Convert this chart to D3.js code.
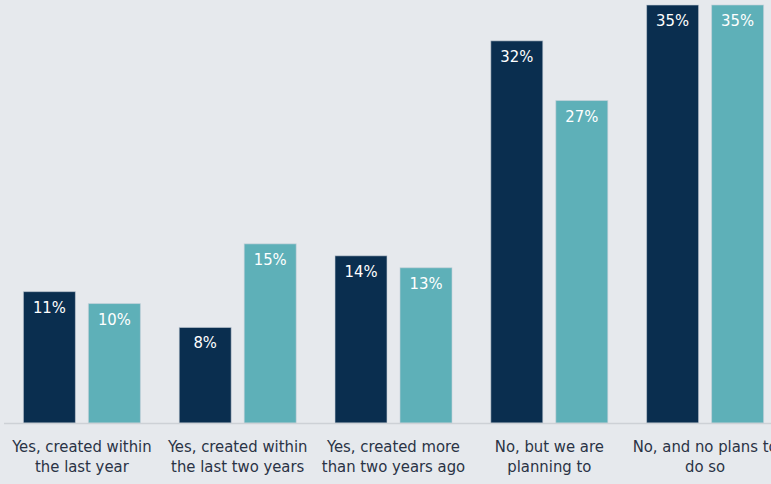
<!DOCTYPE html>
<html>
<head>
<meta charset="utf-8">
<script src="https://cdn.jsdelivr.net/npm/d3@7"></script>
<style>
  html, body { margin: 0; padding: 0; background: #e6e9ed; }
  svg { display: block; }
  text { font-family: "DejaVu Sans Condensed", "DejaVu Sans", sans-serif; }
</style>
</head>
<body>
<svg id="chart" width="771" height="484"></svg>
<script>
// Survey answers (x categories), each split over two lines
const categories = [
  ["Yes, created within", "the last year"],
  ["Yes, created within", "the last two years"],
  ["Yes, created more", "than two years ago"],
  ["No, but we are", "planning to"],
  ["No, and no plans to", "do so"]
];
// Two respondent groups, percentages
const seriesA = [11, 8, 14, 32, 35];
const seriesB = [10, 15, 13, 27, 35];
const colors = ["#0a2e4f", "#5eb0b8"];

const svg = d3.select("#chart");
const baseY = 423;
const plotTop = 5;

const x0 = d3.scaleBand()
  .domain(d3.range(categories.length))
  .range([4, 783])
  .paddingInner(0)
  .paddingOuter(0);

const x1 = d3.scaleBand()
  .domain([0, 1])
  .range([0, 117])
  .paddingInner(0.2)
  .paddingOuter(0);

const y = d3.scaleLinear().domain([0, 35]).range([baseY, plotTop]);

const rows = categories.map((c, i) => ({ i, vals: [seriesA[i], seriesB[i]] }));

const groups = svg.selectAll("g.grp")
  .data(rows)
  .join("g")
  .attr("class", "grp")
  .attr("transform", d => `translate(${x0(d.i) + (x0.bandwidth() - 117) / 2},0)`);

const bars = groups.selectAll("g.bar")
  .data(d => d.vals.map((v, s) => ({ v, s })))
  .join("g")
  .attr("class", "bar");

bars.append("rect")
  .attr("x", d => x1(d.s))
  .attr("width", x1.bandwidth())
  .attr("y", d => y(d.v))
  .attr("height", d => baseY - y(d.v))
  .attr("fill", d => colors[d.s])
  .attr("stroke", "#c9d2da")
  .attr("stroke-opacity", 0.6)
  .attr("stroke-width", 1);

bars.append("text")
  .attr("x", d => x1(d.s) + x1.bandwidth() / 2)
  .attr("y", d => y(d.v) + 21)
  .attr("text-anchor", "middle")
  .attr("fill", "#ffffff")
  .attr("font-size", 16.5)
  .text(d => d.v + "%");

// baseline
svg.append("line")
  .attr("x1", 4).attr("x2", 771)
  .attr("y1", baseY + 0.5).attr("y2", baseY + 0.5)
  .attr("stroke", "#cdd1d6")
  .attr("stroke-width", 1.5);

// category labels
const lab = svg.selectAll("text.cat")
  .data(categories)
  .join("text")
  .attr("class", "cat")
  .attr("text-anchor", "middle")
  .attr("fill", "#2a3345")
  .attr("font-size", 16.5)
  .attr("transform", (d, i) => `translate(${x0(i) + x0.bandwidth() / 2},0)`);

lab.selectAll("tspan")
  .data(d => d)
  .join("tspan")
  .attr("x", 0)
  .attr("y", (d, j) => 452 + j * 20)
  .text(d => d);
</script>
</body>
</html>
